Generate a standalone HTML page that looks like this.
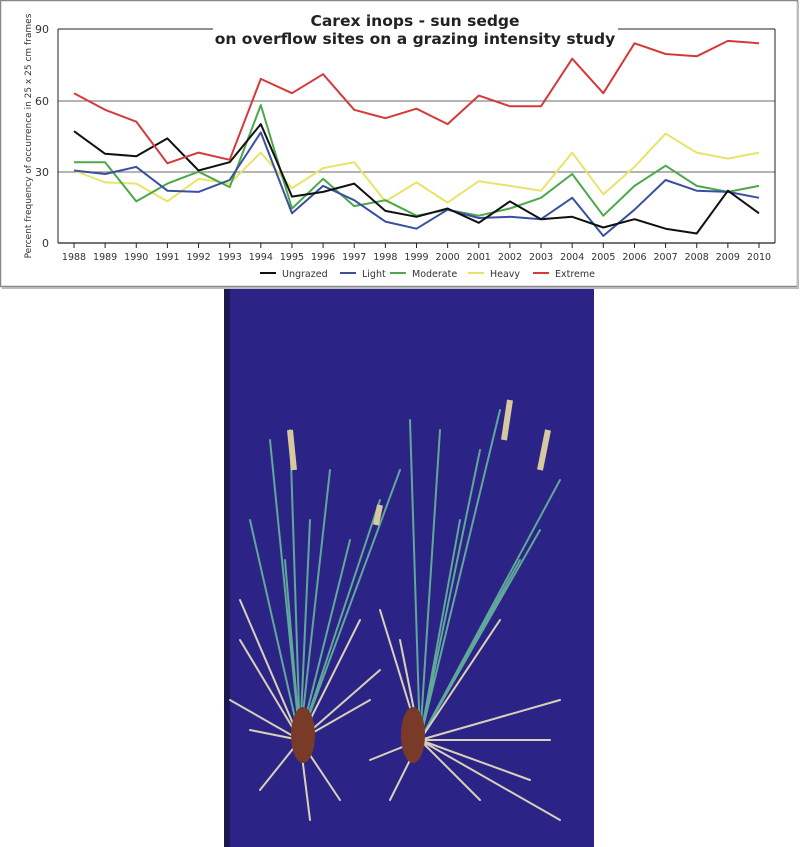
<!DOCTYPE html>
<html><head><style>
html,body{margin:0;padding:0;background:#fff;}
body{width:800px;height:847px;position:relative;overflow:hidden;font-family:"DejaVu Sans","Liberation Sans",sans-serif;}
</style></head><body>
<svg id="c" width="800" height="847" xmlns="http://www.w3.org/2000/svg" style="position:absolute;left:0;top:0">
<rect x="0.5" y="0.5" width="797" height="286" fill="#fff" stroke="#888" stroke-width="1.5"/>
<line x1="2" y1="288" x2="799" y2="288" stroke="#bbb" stroke-width="2"/>
<line x1="798" y1="2" x2="798" y2="288" stroke="#bbb" stroke-width="2"/>
<line x1="58" y1="101" x2="775" y2="101" stroke="#888" stroke-width="1.2"/>
<line x1="58" y1="172" x2="775" y2="172" stroke="#888" stroke-width="1.2"/>
<line x1="58" y1="29" x2="213" y2="29" stroke="#222" stroke-width="1"/>
<line x1="618" y1="29" x2="775" y2="29" stroke="#222" stroke-width="1"/>
<line x1="58" y1="29" x2="58" y2="243" stroke="#222" stroke-width="1"/>
<line x1="775" y1="29" x2="775" y2="243" stroke="#222" stroke-width="1"/>
<line x1="58" y1="243" x2="775" y2="243" stroke="#222" stroke-width="1.2"/>
<g font-size="11" fill="#333" text-anchor="end">
<text x="49" y="33">90</text><text x="49" y="105">60</text><text x="49" y="176">30</text><text x="49" y="247">0</text>
</g>
<text transform="translate(31,136) rotate(-90)" font-size="9" fill="#333" text-anchor="middle">Percent frequency of occurrence in 25 x 25 cm frames</text>
<g font-weight="bold" font-size="15.5" fill="#222" text-anchor="middle">
<text x="415" y="26">Carex inops  -  sun sedge</text>
<text x="415" y="44">on overflow sites on a grazing intensity study</text>
</g>
<g id="ticks"></g>
<g id="lines" fill="none" stroke-width="2" stroke-linejoin="round"></g>
<g font-size="9.5" fill="#333">
<line x1="260" y1="273" x2="276" y2="273" stroke="#111" stroke-width="2"/><text x="282" y="277">Ungrazed</text>
<line x1="340" y1="273" x2="356" y2="273" stroke="#3a4fa0" stroke-width="2"/><text x="362" y="277">Light</text>
<line x1="390" y1="273" x2="406" y2="273" stroke="#4ca84a" stroke-width="2"/><text x="412" y="277">Moderate</text>
<line x1="468" y1="273" x2="484" y2="273" stroke="#e8e46a" stroke-width="2"/><text x="490" y="277">Heavy</text>
<line x1="533" y1="273" x2="549" y2="273" stroke="#d43a3a" stroke-width="2"/><text x="555" y="277">Extreme</text>
</g>
<rect x="224" y="289" width="370" height="558" fill="#2b2486"/>
<rect x="224" y="289" width="6" height="558" fill="#1a1650"/>
<g stroke-width="2" fill="none" stroke-linecap="round">
<path d="M300 740 L290 430 M300 740 L330 470 M300 740 L250 520 M300 740 L380 500 M300 740 L400 470 M300 740 L270 440 M300 740 L310 520 M300 740 L285 560 M300 740 L350 540" stroke="#5fa89a"/>
<path d="M300 740 L240 600 M300 740 L360 620 M300 740 L230 700 M300 740 L370 700 M300 740 L260 790 M300 740 L340 800 M300 740 L240 640 M300 740 L250 730 M300 740 L380 670 M300 740 L310 820" stroke="#d8d0b8"/>
<path d="M420 740 L440 430 M420 740 L480 450 M420 740 L500 410 M420 740 L560 480 M420 740 L540 530 M420 740 L410 420 M420 740 L460 520 M420 740 L520 560" stroke="#5fa89a"/>
<path d="M420 740 L380 610 M420 740 L500 620 M420 740 L560 700 M420 740 L370 760 M420 740 L560 820 M420 740 L480 800 M420 740 L550 740 M420 740 L400 640 M420 740 L530 780 M420 740 L390 800" stroke="#d8d0b8"/>
</g>
<ellipse cx="303" cy="735" rx="12" ry="28" fill="#7a3a28"/>
<ellipse cx="413" cy="735" rx="12" ry="28" fill="#7a3a28"/>
<path d="M290 430 l4 40 M510 400 l-6 40 M548 430 l-8 40 M380 505 l-4 20" stroke="#d8c8a0" stroke-width="6" fill="none"/>
</svg>
<script>
var X=function(i){return 74+i*(759-74)/22;};
var Y=function(v){return 243-v*214/90;};
var tk=document.getElementById('ticks'),s='';
for(var i=0;i<23;i++){s+='<line x1="'+X(i)+'" y1="243" x2="'+X(i)+'" y2="248" stroke="#222"/><text x="'+X(i)+'" y="260" font-size="9.5" fill="#333" text-anchor="middle">'+(1988+i)+'</text>';}
tk.innerHTML=s;
var D=[
['#e8e46a',[30.5,25.5,25,17.5,27,25,38,23,31.5,34,17.5,25.5,17,26,24,22,38,20.5,32,46,38,35.5,38]],
['#4ca84a',[34,34,17.5,25,30,23.5,58,14.5,27,15.5,18,11.5,14,11.5,14.5,19,29,11.5,24,32.5,24,21.5,24]],
['#3a4fa0',[30.5,29,32,22,21.5,26.5,46.5,12.5,24,18,9,6,14,10.5,11,10,19,3,14,26.5,22,21.5,19]],
['#111',[47,37.5,36.5,44,30.5,34,50,19.5,21.5,25,13.5,11,14.5,8.5,17.5,10,11,6.5,10,6,4,22,12.5]],
['#d43a3a',[63,56,51,33.5,38,35,69,63,71,56,52.5,56.5,50,62,57.5,57.5,77.5,63,84,79.5,78.5,85,84]]];
var g=document.getElementById('lines'),h='';
D.forEach(function(d){h+='<polyline stroke="'+d[0]+'" points="'+d[1].map(function(v,i){return X(i).toFixed(1)+','+Y(v).toFixed(1);}).join(' ')+'"/>';});
g.innerHTML=h;
</script>
</body></html>
